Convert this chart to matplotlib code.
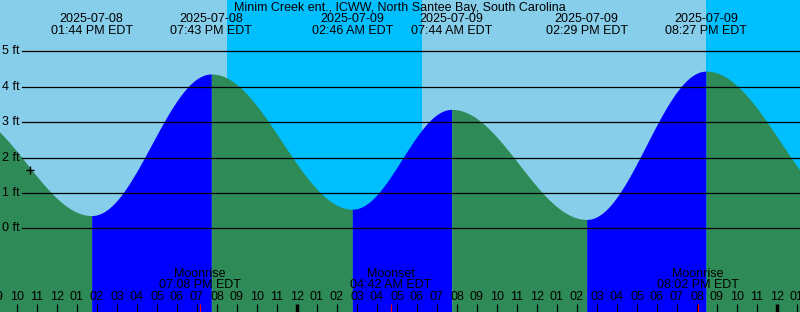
import numpy as np
import matplotlib
matplotlib.use("Agg")
import matplotlib.pyplot as plt

plt.rcParams['font.family'] = ['Liberation Sans', 'DejaVu Sans']

# === Data (hours counted from 2025-07-08 00:00 EDT) ===
title = "Minim Creek ent., ICWW, North Santee Bay, South Carolina"

# high / low tides; first and last ones lie just outside the window
tide_hours = [7.23, 13.733, 19.717, 26.767, 31.733, 38.483, 44.45, 51.95]
tide_ft = [3.30, 0.36, 4.36, 0.54, 3.36, 0.25, 4.44, 0.40]
tide_dates = ["", "2025-07-08", "2025-07-08", "2025-07-09", "2025-07-09",
              "2025-07-09", "2025-07-09", ""]
tide_labels = ["", "01:44 PM EDT", "07:43 PM EDT", "02:46 AM EDT", "07:44 AM EDT",
               "02:29 PM EDT", "08:27 PM EDT", ""]

# night periods (sunset, sunrise)
night_start = [20.5, 44.45]
night_end = [30.25, 60.0]

moon_hours = [19.133, 28.7, 44.033]
moon_names = ["Moonrise", "Moonset", "Moonrise"]
moon_labels = ["07:08 PM EDT", "04:42 AM EDT", "08:02 PM EDT"]

now_hour = 10.65
now_ft = 1.64

levels_ft = [0, 1, 2, 3, 4, 5]

FS = 9.0

# === Figure ===
W, H = 800, 312
fig = plt.figure(figsize=(W / 100, H / 100), dpi=100)
ax = fig.add_axes([0, 0, 1, 1])
ax.set_axis_off()

x0, x1 = 9.15, 49.15
px_per_ft = 35.4
zero_row = 228.3
y_top = zero_row / px_per_ft
y_bot = (zero_row - H) / px_per_ft
ax.set_xlim(x0, x1)
ax.set_ylim(y_bot, y_top)

def row(r):
    # pixel row from the top -> data y
    return (zero_row - r) / px_per_ft

def col(c):
    return x0 + c / 20.0

# sky
ax.axvspan(x0, x1, color="#87CEEB", zorder=0)
for s, e in zip(night_start, night_end):
    ax.axvspan(s, e, color="#00BFFF", zorder=0.5, lw=0)

# tide curve: cosine shape between each pair of extremes
for i in range(len(tide_hours) - 1):
    ta, tb = tide_hours[i], tide_hours[i + 1]
    ha, hb = tide_ft[i], tide_ft[i + 1]
    t = np.linspace(ta, tb, 200)
    h = hb + (ha - hb) * (1 + np.cos(np.pi * (t - ta) / (tb - ta))) / 2
    color = "#0000FF" if hb > ha else "#2E8B57"
    ax.fill_between(t, y_bot, h, color=color, lw=0, zorder=1)

# level lines
for lv in levels_ft:
    ax.plot([col(22), x1], [lv, lv], color="black", lw=0.9, zorder=2)
    ax.text(col(2), lv, f"{lv} ft", fontsize=FS, ha="left", va="center", zorder=3)

# tide labels
ax.text((x0 + x1) / 2, row(7.5), title, fontsize=FS, ha="center", va="center", zorder=3)
for t, d, lab in zip(tide_hours, tide_dates, tide_labels):
    if d:
        ax.text(t, row(19.0), d, fontsize=FS, ha="center", va="center", zorder=3)
        ax.text(t, row(31.3), lab, fontsize=FS, ha="center", va="center", zorder=3)

# current position
ax.plot([now_hour], [now_ft], marker="+", color="black", ms=6, mew=1, zorder=3)

# hour ticks
tick_top, tick_bot = row(304), row(312)
for hr in range(9, 50):
    lab = f"{(hr - 1) % 12 + 1:02d}"
    ax.text(hr, row(297.5), lab, fontsize=FS, ha="center", va="center", zorder=3)
    lw = 2.5 if hr % 24 == 0 else 0.8
    ax.plot([hr, hr], [tick_top, tick_bot], color="black", lw=lw, zorder=3,
            solid_capstyle="butt")

# moon events
for t, name, lab in zip(moon_hours, moon_names, moon_labels):
    ax.plot([t, t], [tick_top, tick_bot], color="red", lw=0.8, zorder=3,
            solid_capstyle="butt")
    ax.text(t, row(274), name, fontsize=FS, ha="center", va="center", zorder=3)
    ax.text(t, row(285.5), lab, fontsize=FS, ha="center", va="center", zorder=3)

fig.savefig("out.png", dpi=100)
